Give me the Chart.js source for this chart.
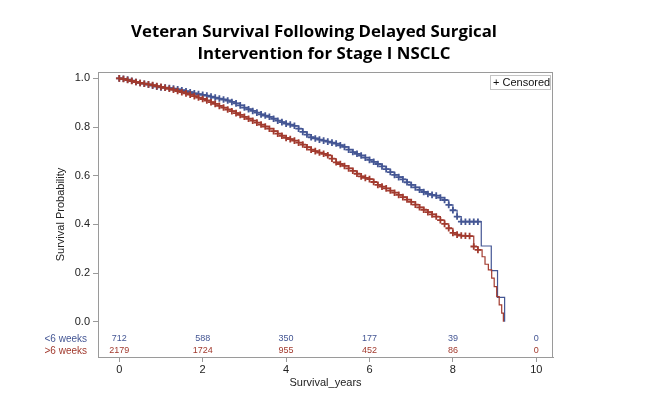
<!DOCTYPE html>
<html>
<head>
<meta charset="utf-8">
<script src="https://cdn.jsdelivr.net/npm/chart.js"></script>
<style>
  html, body { margin: 0; padding: 0; background: #fff; }
</style>
</head>
<body>
<canvas id="km" width="653" height="417"></canvas>
<script>
// chart text
const titleLines = ['Veteran Survival Following Delayed Surgical', 'Intervention for Stage I NSCLC'];
const groupNames = ['<6 weeks', '>6 weeks'];

// Kaplan-Meier curves (years, survival)
const shortTimes = [0, 0.1, 0.2, 0.3, 0.4, 0.5, 0.6, 0.7, 0.8, 0.9, 1.0, 1.1, 1.2, 1.3, 1.4, 1.5, 1.6, 1.7, 1.8, 1.9,
  2.0, 2.1, 2.2, 2.3, 2.4, 2.5, 2.6, 2.7, 2.8, 2.9, 3.0, 3.1, 3.2, 3.3, 3.4, 3.5, 3.6, 3.7, 3.8, 3.9,
  4.0, 4.1, 4.2, 4.3, 4.4, 4.5, 4.6, 4.7, 4.8, 4.9, 5.0, 5.1, 5.2, 5.3, 5.4, 5.5, 5.6, 5.7, 5.8, 5.9,
  6.0, 6.1, 6.2, 6.3, 6.4, 6.5, 6.6, 6.7, 6.8, 6.9, 7.0, 7.1, 7.2, 7.3, 7.4, 7.5, 7.6, 7.7, 7.8, 7.9,
  8.0, 8.1, 8.2, 8.3, 8.4, 8.5, 8.6, 8.68, 8.92, 9.07, 9.24];
const shortSurv = [1.000, 0.998, 0.995, 0.990, 0.985, 0.981, 0.978, 0.974, 0.970, 0.966, 0.963, 0.962, 0.960, 0.958, 0.955, 0.951, 0.947, 0.943, 0.938, 0.935,
  0.932, 0.929, 0.925, 0.921, 0.917, 0.913, 0.909, 0.903, 0.897, 0.889, 0.880, 0.873, 0.866, 0.859, 0.852, 0.847, 0.842, 0.834, 0.826, 0.820,
  0.814, 0.810, 0.805, 0.793, 0.780, 0.769, 0.758, 0.753, 0.748, 0.744, 0.740, 0.736, 0.732, 0.725, 0.718, 0.707, 0.697, 0.690, 0.683, 0.674,
  0.665, 0.657, 0.648, 0.638, 0.627, 0.615, 0.603, 0.594, 0.585, 0.573, 0.562, 0.552, 0.542, 0.533, 0.525, 0.521, 0.518, 0.510, 0.500, 0.480,
  0.458, 0.432, 0.411, 0.411, 0.411, 0.411, 0.411, 0.311, 0.210, 0.100, 0.000];
const longTimes = [0, 0.1, 0.2, 0.3, 0.4, 0.5, 0.6, 0.7, 0.8, 0.9, 1.0, 1.1, 1.2, 1.3, 1.4, 1.5, 1.6, 1.7, 1.8, 1.9,
  2.0, 2.1, 2.2, 2.3, 2.4, 2.5, 2.6, 2.7, 2.8, 2.9, 3.0, 3.1, 3.2, 3.3, 3.4, 3.5, 3.6, 3.7, 3.8, 3.9,
  4.0, 4.1, 4.2, 4.3, 4.4, 4.5, 4.6, 4.7, 4.8, 4.9, 5.0, 5.1, 5.2, 5.3, 5.4, 5.5, 5.6, 5.7, 5.8, 5.9,
  6.0, 6.1, 6.2, 6.3, 6.4, 6.5, 6.6, 6.7, 6.8, 6.9, 7.0, 7.1, 7.2, 7.3, 7.4, 7.5, 7.6, 7.7, 7.8, 7.9,
  8.0, 8.1, 8.2, 8.3, 8.4, 8.5, 8.6, 8.7, 8.77, 8.85, 8.93, 8.99, 9.05, 9.11, 9.17, 9.21];
const longSurv = [1.000, 0.997, 0.993, 0.989, 0.985, 0.981, 0.978, 0.975, 0.972, 0.968, 0.965, 0.961, 0.957, 0.953, 0.948, 0.943, 0.938, 0.933, 0.927, 0.921,
  0.915, 0.909, 0.902, 0.895, 0.887, 0.880, 0.872, 0.865, 0.857, 0.850, 0.842, 0.834, 0.826, 0.818, 0.810, 0.802, 0.793, 0.783, 0.773, 0.764,
  0.755, 0.750, 0.744, 0.736, 0.728, 0.717, 0.707, 0.701, 0.695, 0.690, 0.684, 0.670, 0.655, 0.648, 0.640, 0.630, 0.620, 0.608, 0.597, 0.591,
  0.586, 0.574, 0.562, 0.555, 0.548, 0.539, 0.530, 0.521, 0.512, 0.502, 0.492, 0.481, 0.470, 0.460, 0.450, 0.441, 0.432, 0.417, 0.402, 0.384,
  0.365, 0.358, 0.354, 0.353, 0.352, 0.309, 0.295, 0.267, 0.236, 0.213, 0.179, 0.144, 0.103, 0.069, 0.035, 0.000];
// censor marks are shown up to these times
const shortCensorEnd = 8.62;
const longCensorEnd = 8.62;

// number at risk table
const riskTimes = [0, 2, 4, 6, 8, 10];
const riskShort = [712, 588, 350, 177, 39, 0];
const riskLong = [2179, 1724, 955, 452, 86, 0];

// tick labels
const xTicks = [0, 2, 4, 6, 8, 10];
const yTicks = [0, 0.2, 0.4, 0.6, 0.8, 1.0];

const BLUE = '#445694';
const RED = '#A23A2E';
const AXIS = '#9a9a9a';
const FONT = "'Liberation Sans', Arial, sans-serif";

function toPoints(ts, ss) {
  return ts.map((t, i) => ({ x: t, y: ss[i] }));
}

const extras = {
  id: 'kmExtras',
  afterDraw(chart) {
    const { ctx, chartArea: a, scales } = chart;
    ctx.save();
    // frame round the plot
    ctx.strokeStyle = AXIS;
    ctx.lineWidth = 1;
    ctx.strokeRect(a.left + 0.5, a.top + 0.5, a.right - a.left - 1, a.bottom - a.top);

    // title
    ctx.fillStyle = '#000';
    ctx.textAlign = 'center';
    ctx.textBaseline = 'alphabetic';
    ctx.font = "bold 16.8px 'Open Sans', sans-serif";
    ctx.fillText(titleLines[0], 314, 37);
    ctx.fillText(titleLines[1], 324, 58.5);

    // censored legend
    ctx.strokeStyle = '#c4c4c4';
    ctx.strokeRect(490.5, 75.5, 60, 14);
    ctx.fillStyle = '#111';
    ctx.textAlign = 'left';
    ctx.textBaseline = 'middle';
    ctx.font = '11px ' + FONT;
    ctx.fillText('+ Censored', 493, 83);

    // at risk table
    const rows = [
      { name: groupNames[0], vals: riskShort, color: BLUE, y: 339 },
      { name: groupNames[1], vals: riskLong, color: RED, y: 351 }
    ];
    rows.forEach(r => {
      ctx.fillStyle = r.color;
      ctx.textAlign = 'right';
      ctx.font = '10px ' + FONT;
      ctx.fillText(r.name, 87, r.y);
      ctx.textAlign = 'center';
      ctx.font = '9px ' + FONT;
      r.vals.forEach((v, i) => {
        ctx.fillText(String(v), scales.x.getPixelForValue(riskTimes[i]), r.y);
      });
    });
    ctx.restore();
  }
};

new Chart(document.getElementById('km').getContext('2d'), {
  type: 'line',
  data: {
    datasets: [
      {
        label: groupNames[1],
        data: toPoints(longTimes, longSurv),
        borderColor: RED,
        backgroundColor: RED,
        borderWidth: 1.2,
        stepped: true,
        pointStyle: 'cross',
        pointRadius: c => (c.raw && c.raw.x <= longCensorEnd ? 3.3 : 0),
        pointBorderWidth: 1.8,
        pointBorderColor: RED
      },
      {
        label: groupNames[0],
        data: toPoints(shortTimes, shortSurv),
        borderColor: BLUE,
        backgroundColor: BLUE,
        borderWidth: 1.2,
        stepped: true,
        pointStyle: 'cross',
        pointRadius: c => (c.raw && c.raw.x <= shortCensorEnd ? 3.3 : 0),
        pointBorderWidth: 1.8,
        pointBorderColor: BLUE
      }
    ]
  },
  options: {
    responsive: false,
    animation: false,
    layout: { padding: { left: 50, right: 100, top: 72, bottom: 23 } },
    plugins: {
      legend: { display: false },
      title: { display: false },
      tooltip: { enabled: false }
    },
    scales: {
      x: {
        type: 'linear',
        min: -0.51,
        max: 10.4,
        afterBuildTicks: s => { s.ticks = xTicks.map(v => ({ value: v })); },
        afterFit: s => { s.height = 37; },
        grid: { drawOnChartArea: false, tickLength: 5, color: AXIS },
        border: { color: AXIS },
        ticks: { color: '#222', font: { size: 11, family: FONT }, padding: 1, maxRotation: 0 },
        title: { display: true, text: 'Survival_years', color: '#222', font: { size: 11, family: FONT } }
      },
      y: {
        min: -0.145,
        max: 1.026,
        afterBuildTicks: s => { s.ticks = yTicks.map(v => ({ value: v })); },
        afterFit: s => { s.width = 48; },
        grid: { drawOnChartArea: false, tickLength: 5, color: AXIS },
        border: { color: AXIS },
        ticks: { color: '#222', font: { size: 11, family: FONT }, padding: 3, callback: v => Number(v).toFixed(1) },
        title: { display: true, text: 'Survival Probability', color: '#222', font: { size: 11, family: FONT } }
      }
    }
  },
  plugins: [extras]
});
</script>
</body>
</html>
